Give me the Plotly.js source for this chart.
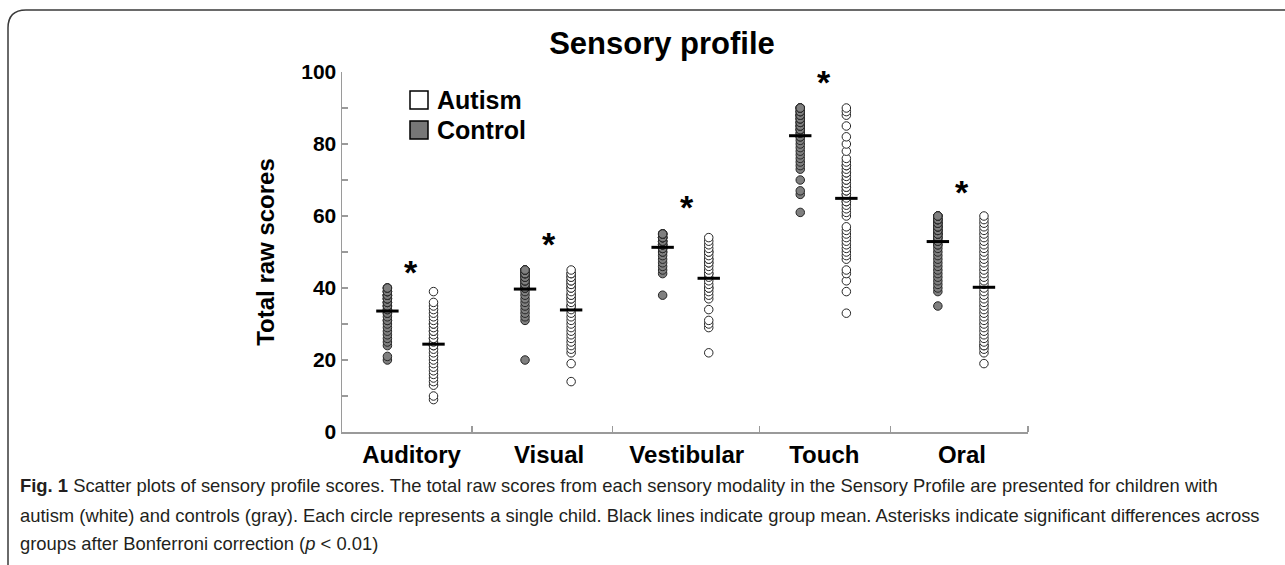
<!DOCTYPE html>
<html>
<head>
<meta charset="utf-8">
<script src="https://cdn.plot.ly/plotly-3.0.1.min.js"></script>
<style>html,body{margin:0;padding:0;background:#fff;}#chart{width:1285px;height:565px;}</style>
</head>
<body>
<div id="chart"></div>
<script>
// ---------- data ----------
const categories = ['Auditory', 'Visual', 'Vestibular', 'Touch', 'Oral'];
const seriesNames = ['Autism', 'Control'];

const auditoryControl = [20, 21, 24, 25, 26, 27, 28, 29, 30, 31, 31, 32, 33, 33, 34, 34, 35, 35, 35, 36, 36, 36, 37, 37, 37, 38, 38, 38, 38, 39, 39, 39, 40, 40, 40];
const auditoryAutism = [9, 10, 13, 14, 15, 16, 17, 18, 19, 20, 21, 22, 23, 24, 24, 25, 26, 26, 27, 28, 28, 29, 30, 30, 31, 32, 33, 34, 35, 36, 39];
const visualControl = [20, 31, 32, 33, 34, 35, 36, 37, 38, 39, 40, 40, 40, 41, 41, 41, 42, 42, 42, 43, 43, 43, 44, 44, 44, 44, 45, 45, 45, 45];
const visualAutism = [14, 19, 22, 23, 24, 25, 26, 27, 28, 29, 30, 31, 32, 33, 34, 35, 35, 36, 37, 37, 38, 38, 39, 40, 40, 41, 41, 42, 42, 43, 43, 44, 44, 45];
const vestibularControl = [38, 44, 45, 46, 47, 48, 49, 50, 50, 51, 51, 51, 52, 52, 52, 52, 53, 53, 53, 53, 54, 54, 54, 54, 54, 55, 55, 55, 55, 55];
const vestibularAutism = [22, 29, 30, 31, 34, 37, 38, 39, 40, 40, 41, 42, 43, 44, 44, 45, 46, 47, 47, 48, 48, 49, 50, 50, 51, 52, 53, 54];
const touchControl = [61, 66, 67, 70, 73, 74, 75, 76, 77, 78, 79, 80, 81, 82, 82, 83, 83, 84, 84, 84, 85, 85, 85, 86, 86, 86, 87, 87, 87, 88, 88, 88, 88, 89, 89, 89, 90, 90, 90, 90];
const touchAutism = [33, 39, 42, 44, 45, 48, 49, 50, 51, 52, 53, 54, 55, 56, 57, 60, 61, 62, 63, 64, 64, 65, 66, 66, 67, 67, 68, 68, 69, 70, 70, 71, 72, 72, 73, 74, 74, 75, 76, 78, 80, 82, 85, 88, 89, 90];
const oralControl = [35, 39, 40, 41, 42, 43, 44, 45, 46, 47, 48, 49, 50, 51, 52, 52, 53, 53, 54, 54, 54, 55, 55, 55, 55, 56, 56, 56, 56, 57, 57, 57, 57, 58, 58, 58, 58, 59, 59, 59, 59, 60, 60, 60, 60];
const oralAutism = [19, 22, 23, 24, 24, 25, 26, 27, 28, 29, 30, 31, 32, 33, 34, 35, 36, 37, 38, 39, 40, 41, 42, 43, 44, 45, 46, 47, 48, 49, 50, 51, 52, 53, 54, 55, 56, 57, 58, 59, 60];

const controlMeans = [33.6, 39.7, 51.3, 82.3, 52.9];
const autismMeans = [24.4, 33.9, 42.7, 64.9, 40.2];
const asteriskY = [46.5, 54.3, 64.4, 99.2, 68.6];

const yTickVals = [0, 20, 40, 60, 80, 100];
const yTickText = ['0', '20', '40', '60', '80', '100'];

const captionLines = [
  '<b>Fig. 1</b> Scatter plots of sensory profile scores. The total raw scores from each sensory modality in the Sensory Profile are presented for children with',
  'autism (white) and controls (gray). Each circle represents a single child. Black lines indicate group mean. Asterisks indicate significant differences across',
  'groups after Bonferroni correction (<i>p</i> &lt; 0.01)'
];

// ---------- build ----------
const controlGroups = [auditoryControl, visualControl, vestibularControl, touchControl, oralControl];
const autismGroups = [auditoryAutism, visualAutism, vestibularAutism, touchAutism, oralAutism];

const FONT = 'Liberation Sans, Arial, sans-serif';
const CTRL_OFF = -0.175, AUT_OFF = 0.16;
const W = 1285, H = 565, ML = 342, MR = 257, MT = 72, MB = 133;
const PW = W - ML - MR, PH = H - MT - MB;
const px = x => (x - ML) / PW;      // pixel -> paper x
const py = y => (H - MB - y) / PH;  // pixel -> paper y

function flatten(groups, off) {
  const xs = [], ys = [];
  groups.forEach((g, i) => g.forEach(v => { xs.push(i + off); ys.push(v); }));
  return {xs, ys};
}
const c = flatten(controlGroups, CTRL_OFF);
const a = flatten(autismGroups, AUT_OFF);

const dotLine = {color: '#262626', width: 1};
const traces = [
  {type: 'scatter', mode: 'markers', name: seriesNames[1], x: c.xs, y: c.ys,
   marker: {size: 8.5, color: '#7f7f7f', line: dotLine}, cliponaxis: false, hoverinfo: 'y'},
  {type: 'scatter', mode: 'markers', name: seriesNames[0], x: a.xs, y: a.ys,
   marker: {size: 8.5, color: '#ffffff', line: dotLine}, cliponaxis: false, hoverinfo: 'y'},
  {type: 'scatter', mode: 'markers', name: 'Control mean',
   x: controlMeans.map((m, i) => i + CTRL_OFF), y: controlMeans,
   marker: {symbol: 'line-ew', size: 16, line: {color: '#000', width: 3}}, cliponaxis: false},
  {type: 'scatter', mode: 'markers', name: 'Autism mean',
   x: autismMeans.map((m, i) => i + AUT_OFF), y: autismMeans,
   marker: {symbol: 'line-ew', size: 16, line: {color: '#000', width: 3}}, cliponaxis: false}
];

const annotations = [];
asteriskY.forEach((yv, i) => annotations.push({
  x: i, y: yv, xref: 'x', yref: 'y', text: '*', showarrow: false,
  font: {family: FONT, size: 34, color: '#000', weight: 'bold'}, yanchor: 'middle', yshift: -7
}));
// legend
annotations.push({x: px(435), y: py(100), xref: 'paper', yref: 'paper', text: seriesNames[0], showarrow: false,
  xanchor: 'left', yanchor: 'middle', font: {family: FONT, size: 25, color: '#000', weight: 'bold'}});
annotations.push({x: px(435), y: py(130), xref: 'paper', yref: 'paper', text: seriesNames[1], showarrow: false,
  xanchor: 'left', yanchor: 'middle', font: {family: FONT, size: 25, color: '#000', weight: 'bold'}});
// caption
const capY = [486, 515, 543];
captionLines.forEach((t, i) => annotations.push({
  x: px(18), y: py(capY[i]), xref: 'paper', yref: 'paper', text: t, showarrow: false,
  xanchor: 'left', yanchor: 'middle', align: 'left',
  font: {family: FONT, size: 18.4, color: '#231f20'}
}));

const shapes = [
  {type: 'rect', xref: 'paper', yref: 'paper', x0: px(410), x1: px(428), y0: py(109), y1: py(91),
   fillcolor: '#fff', line: {color: '#000', width: 1.5}},
  {type: 'rect', xref: 'paper', yref: 'paper', x0: px(410), x1: px(428), y0: py(139), y1: py(121),
   fillcolor: '#777', line: {color: '#000', width: 1.5}},
  {type: 'path', xref: 'paper', yref: 'paper', line: {color: '#3a3a3a', width: 1.5},
   path: `M ${px(8)} ${py(566)} L ${px(8)} ${py(28)} Q ${px(8)} ${py(10)} ${px(26)} ${py(10)} L ${px(1286)} ${py(10)}`}
];

const layout = {
  width: W, height: H,
  margin: {l: ML, r: MR, t: MT, b: MB},
  paper_bgcolor: '#fff', plot_bgcolor: '#fff',
  showlegend: false,
  title: {text: 'Sensory profile', x: 662 / W, xref: 'container', xanchor: 'center',
          y: 1 - 43 / H, yref: 'container', yanchor: 'middle',
          font: {family: FONT, size: 31, color: '#000', weight: 'bold'}},
  xaxis: {range: [-0.505, 4.48], tickmode: 'array', tickvals: categories.map((c, i) => i), ticktext: categories,
          ticks: '', showline: true, linecolor: '#9a9a9a', linewidth: 1.5, showgrid: false, zeroline: false,
          tickfont: {family: FONT, size: 24, color: '#000', weight: 'bold'}, ticklabelstandoff: 1,
          minor: {tickmode: 'array', tickvals: [0.44, 1.46, 2.53, 3.48, 4.48], ticks: 'inside', ticklen: 6,
                  tickcolor: '#9a9a9a', tickwidth: 1.5, showgrid: false}},
  yaxis: {range: [0, 100], tickmode: 'array', tickvals: yTickVals, ticktext: yTickText,
          ticks: 'inside', ticklen: 6, tickcolor: '#9a9a9a', tickwidth: 1.5,
          showline: true, linecolor: '#9a9a9a', linewidth: 1.5, showgrid: false, zeroline: false,
          tickfont: {family: FONT, size: 21, color: '#000', weight: 'bold'},
          minor: {dtick: 10, ticks: 'inside', ticklen: 6, tickcolor: '#9a9a9a', tickwidth: 1.5, showgrid: false},
          title: {text: 'Total raw scores', standoff: 20, font: {family: FONT, size: 24, color: '#000', weight: 'bold'}}},
  annotations, shapes
};

Plotly.newPlot('chart', traces, layout, {displayModeBar: false, staticPlot: true});
</script>
</body>
</html>
